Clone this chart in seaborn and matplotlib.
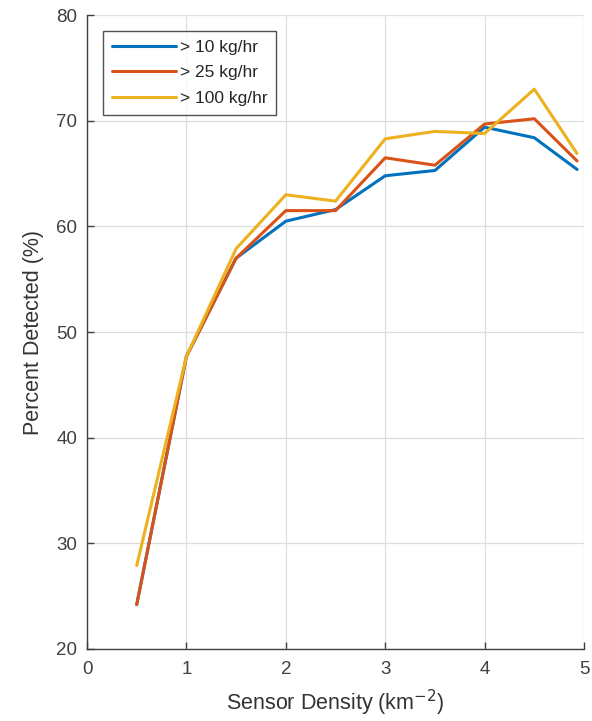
import numpy as np
import pandas as pd
import matplotlib
matplotlib.use("Agg")
import matplotlib.pyplot as plt
import seaborn as sns

density = [0.5, 1.0, 1.5, 2.0, 2.5, 3.0, 3.5, 4.0, 4.5, 4.93]
det_10 = [24.2, 47.7, 57.0, 60.5, 61.6, 64.8, 65.3, 69.4, 68.4, 65.4]
det_25 = [24.2, 47.7, 57.0, 61.5, 61.5, 66.5, 65.8, 69.7, 70.2, 66.2]
det_100 = [27.9, 47.7, 57.9, 63.0, 62.4, 68.3, 69.0, 68.8, 73.0, 66.9]
labels = ["> 10 kg/hr", "> 25 kg/hr", "> 100 kg/hr"]
colors = ["#0072BD", "#D95319", "#EDB120"]

df = pd.concat([
    pd.DataFrame({"x": density, "y": vals, "series": lab})
    for vals, lab in zip([det_10, det_25, det_100], labels)
])

sns.set_theme(style="white")
plt.rcParams["font.family"] = ["Liberation Sans", "DejaVu Sans"]

fig = plt.figure(figsize=(5.92, 7.21), dpi=100)
ax = fig.add_axes([0.147, 0.0999, 0.8395, 0.879])
sns.lineplot(data=df, x="x", y="y", hue="series", palette=colors,
             linewidth=2.2, ax=ax, sort=False, estimator=None)

ax.set_xlim(0, 5)
ax.set_ylim(20, 80)
ax.set_xticks(range(0, 6))
ax.set_yticks(range(20, 81, 10))
ax.grid(True, color="#dedede", linewidth=0.9)
ax.set_axisbelow(True)
for s in ["top", "right"]:
    ax.spines[s].set_visible(False)
for s in ["left", "bottom"]:
    ax.spines[s].set_color("#404040")
    ax.spines[s].set_linewidth(1.0)
ax.tick_params(direction="in", length=5, width=1, color="#404040",
               labelsize=13.5, labelcolor="#404040", left=True, bottom=True)
ax.tick_params(axis="x", pad=9)
ax.tick_params(axis="y", pad=7)
ax.set_xlabel("Sensor Density (km$^{-2}$)", fontsize=15.5, color="#333333", labelpad=7)
ax.set_ylabel("Percent Detected (%)", fontsize=15.5, color="#333333", labelpad=9)

leg = ax.legend(loc="upper left", bbox_to_anchor=(0.032, 0.975), borderaxespad=0,
                fontsize=12.5, frameon=True, fancybox=False, edgecolor="#262626",
                handlelength=3.7, handletextpad=0.25, borderpad=0.5,
                labelspacing=0.6)
leg.get_frame().set_linewidth(1.0)
leg.set_title(None)

fig.savefig("out.png", dpi=100)
